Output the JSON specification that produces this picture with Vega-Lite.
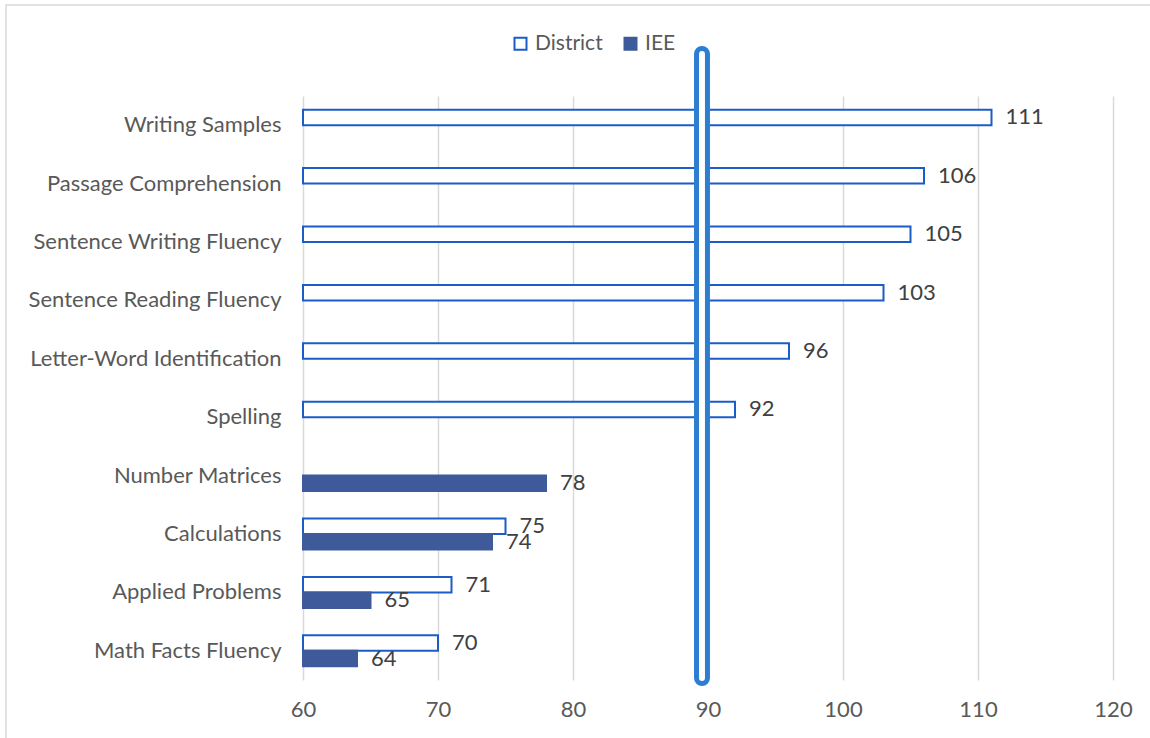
{
  "$schema": "https://vega.github.io/schema/vega-lite/v6.json",
  "width": 810,
  "height": 584,
  "autosize": {"type": "none"},
  "padding": {"left": 303, "top": 96, "right": 37, "bottom": 58},
  "background": "white",
  "config": {
    "view": {"stroke": null},
    "font": "Lato",
    "text": {"font": "Lato"}
  },
  "datasets": {
    "scores": [
      {"test": "Writing Samples", "source": "District", "score": 111},
      {"test": "Passage Comprehension", "source": "District", "score": 106},
      {"test": "Sentence Writing Fluency", "source": "District", "score": 105},
      {"test": "Sentence Reading Fluency", "source": "District", "score": 103},
      {"test": "Letter-Word Identification", "source": "District", "score": 96},
      {"test": "Spelling", "source": "District", "score": 92},
      {"test": "Number Matrices", "source": "IEE", "score": 78},
      {"test": "Calculations", "source": "District", "score": 75},
      {"test": "Calculations", "source": "IEE", "score": 74},
      {"test": "Applied Problems", "source": "District", "score": 71},
      {"test": "Applied Problems", "source": "IEE", "score": 65},
      {"test": "Math Facts Fluency", "source": "District", "score": 70},
      {"test": "Math Facts Fluency", "source": "IEE", "score": 64}
    ],
    "one": [{"id": 1}]
  },
  "resolve": {"scale": {"x": "independent", "y": "independent"}},
  "layer": [
    {
      "data": {"name": "one"},
      "mark": {"type": "rect", "fill": null, "stroke": "#D9D9D9", "strokeWidth": 1.5},
      "encoding": {
        "x": {"datum": -0.3667, "type": "quantitative", "scale": {"domain": [0, 1], "nice": false, "zero": false}, "axis": null},
        "x2": {"datum": 1.08},
        "y": {"datum": 1.1558, "type": "quantitative", "scale": {"domain": [0, 1], "nice": false, "zero": false}, "axis": null},
        "y2": {"datum": -0.15}
      }
    },
    {
      "resolve": {"scale": {"y": "independent"}},
      "layer": [
        {
          "data": {"name": "scores"},
          "encoding": {
            "y": {
              "field": "test",
              "type": "nominal",
              "sort": ["Writing Samples", "Passage Comprehension", "Sentence Writing Fluency", "Sentence Reading Fluency", "Letter-Word Identification", "Spelling", "Number Matrices", "Calculations", "Applied Problems", "Math Facts Fluency"],
              "scale": {"paddingInner": 0.47, "paddingOuter": 0.235},
              "axis": {"title": null, "domain": false, "ticks": false, "grid": false, "labelFontSize": 22, "labelColor": "#595959", "labelPadding": 22, "labelFont": "Lato", "labelLimit": 0}
            },
            "yOffset": {"field": "source", "type": "nominal", "scale": {"domain": ["District", "IEE"]}},
            "x": {
              "field": "score",
              "type": "quantitative",
              "scale": {"domain": [60, 120], "nice": false, "zero": false},
              "axis": {"title": null, "values": [60, 70, 80, 90, 100, 110, 120], "grid": true, "gridColor": "#D9D9D9", "gridWidth": 1.5, "domain": false, "ticks": false, "labelFlush": false, "labelFontSize": 22, "labelColor": "#595959", "labelPadding": 19, "labelFont": "Lato"}
            }
          },
          "layer": [
            {
              "mark": {"type": "bar", "strokeWidth": 2},
              "encoding": {
                "x2": {"datum": 60},
                "fill": {
                  "field": "source",
                  "type": "nominal",
                  "scale": {"domain": ["District", "IEE"], "range": ["#FFFFFF", "#3F5A9B"]},
                  "legend": {"title": null, "orient": "none", "legendX": 207, "legendY": -63, "direction": "horizontal", "symbolType": "square", "symbolSize": 144, "symbolStrokeWidth": 2, "labelFontSize": 21, "labelColor": "#595959", "labelFont": "Lato", "labelOffset": 4, "columnPadding": 17}
                },
                "stroke": {
                  "field": "source",
                  "type": "nominal",
                  "scale": {"domain": ["District", "IEE"], "range": ["#1A5DC8", "#3F5A9B"]},
                  "legend": {"title": null, "orient": "none", "legendX": 207, "legendY": -63, "direction": "horizontal", "symbolType": "square", "symbolSize": 144, "symbolStrokeWidth": 2, "labelFontSize": 21, "labelColor": "#595959", "labelFont": "Lato", "labelOffset": 4, "columnPadding": 17}
                }
              }
            },
            {
              "mark": {"type": "text", "align": "left", "baseline": "middle", "dx": 14, "fontSize": 22, "color": "#404040"},
              "encoding": {"text": {"field": "score", "type": "quantitative"}}
            }
          ]
        },
        {
          "data": {"name": "one"},
          "mark": {"type": "rect", "fill": "#FFFFFF", "stroke": "#2D7DD2", "strokeWidth": 5, "cornerRadius": 6},
          "encoding": {
            "x": {"datum": 89.15, "type": "quantitative"},
            "x2": {"datum": 89.96},
            "y": {"datum": -0.006, "type": "quantitative", "scale": {"domain": [0, 1], "nice": false, "zero": false}, "axis": null},
            "y2": {"datum": 1.0813}
          }
        }
      ]
    }
  ]
}
